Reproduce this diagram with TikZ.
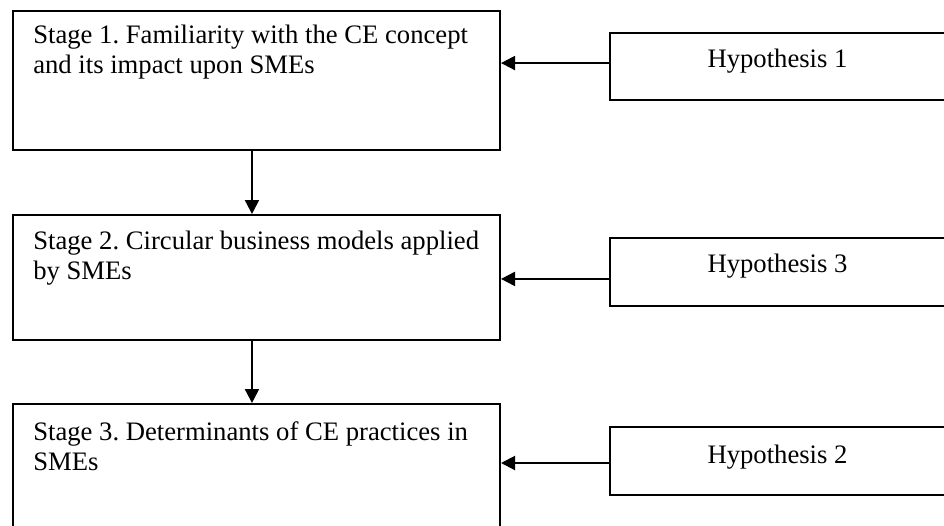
\documentclass[tikz,border=0pt]{standalone}
\usepackage{fontspec}
\setmainfont{Liberation Serif}
\usetikzlibrary{arrows.meta}
\tikzset{
  box/.style={draw=black, line width=1.5pt, fill=none, inner sep=0pt, anchor=north west},
  stagebox/.style={box, minimum width=365.25pt},
  hypbox/.style={box, minimum width=252.75pt},
  stagetext/.style={anchor=base west, inner sep=0pt,
    font=\fontsize{20}{22.5}\selectfont\frenchspacing},
  hyptext/.style={anchor=base, inner sep=0pt, font=\fontsize{20}{22.5}\selectfont},
  conn/.style={line width=1.5pt, -{Triangle[length=10.5pt,width=10.5pt]}}
}
\begin{document}
\begin{tikzpicture}[x=0.75pt,y=-0.75pt]
\useasboundingbox (0,0) rectangle (944,525);
\clip (0,0) rectangle (944,525);
% stage boxes
\node[stagebox, minimum height=104.25pt] (s1) at (12,10) {};
\node[stagebox, minimum height=93.75pt] (s2) at (12,214) {};
\node[stagebox, minimum height=102.75pt] (s3) at (12,403) {};
% hypothesis boxes
\node[hypbox, minimum height=50.25pt] (h1) at (609,32) {};
\node[hypbox, minimum height=51pt] (h3) at (609,237) {};
\node[hypbox, minimum height=51pt] (h2) at (609,426) {};
% texts (two lines each, 30px apart)
\node[stagetext] (t1a) at (33,43) {Stage 1. Familiarity with the CE concept};
\node[stagetext] (t1b) at (33,73) {and its impact upon SMEs};
\node[stagetext] (t2a) at (33,249) {Stage 2. Circular business models applied};
\node[stagetext] (t2b) at (33,279) {by SMEs};
\node[stagetext] (t3a) at (33,440) {Stage 3. Determinants of CE practices in};
\node[stagetext] (t3b) at (33,470) {SMEs};
\node[hyptext] (l1) at (777.5,67) {Hypothesis 1};
\node[hyptext] (l3) at (777.5,272) {Hypothesis 3};
\node[hyptext] (l2) at (777.5,463) {Hypothesis 2};
% connectors
\draw[conn] ([xshift=-3.4pt]s1.south) -- ([xshift=-3.4pt]s2.north);
\draw[conn] ([xshift=-3.4pt]s2.south) -- ([xshift=-3.4pt]s3.north);
\draw[conn] ([yshift=2.6pt]h1.west) -- ([yshift=2.6pt]h1.west -| s1.east);
\draw[conn] ([yshift=-5.2pt]h3.west) -- ([yshift=-5.2pt]h3.west -| s2.east);
\draw[conn] ([yshift=-1.5pt]h2.west) -- ([yshift=-1.5pt]h2.west -| s3.east);
\end{tikzpicture}
\end{document}
